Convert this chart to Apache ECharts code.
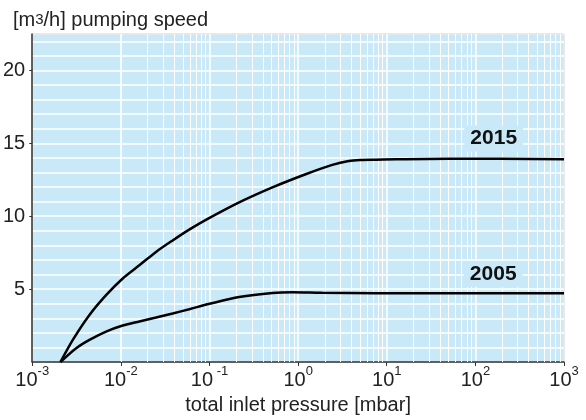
<!DOCTYPE html>
<html><head><meta charset="utf-8">
<script src="https://cdn.jsdelivr.net/npm/echarts@6/dist/echarts.min.js"></script>
<style>html,body{margin:0;padding:0;background:#fff}#c{width:586px;height:420px}</style>
</head><body><div id="c"></div>
<script>
// ---- data ----
const pressure2015 = [0.00208, 0.00287, 0.00442, 0.00681, 0.0105, 0.01615, 0.0249, 0.0384, 0.059, 0.091, 0.216, 0.513, 1.216, 2.43, 3.73, 5.0, 7.46, 50, 1000];
const speed2015    = [0, 1.52, 3.23, 4.59, 5.73, 6.63, 7.55, 8.34, 9.08, 9.75, 10.95, 11.98, 12.88, 13.52, 13.79, 13.86, 13.88, 13.95, 13.9];
const pressure2005 = [0.00208, 0.00313, 0.00442, 0.00681, 0.0105, 0.01615, 0.0249, 0.0384, 0.059, 0.1, 0.216, 0.513, 0.86, 1.85, 7.46, 100, 1000];
const speed2005    = [0, 0.95, 1.52, 2.09, 2.5, 2.78, 3.05, 3.33, 3.62, 3.99, 4.46, 4.74, 4.79, 4.75, 4.72, 4.72, 4.72];
const seriesNames  = ['2015', '2005'];
const xTickExponents = {'-3': '-3', '-2': '-2', '-1': ' -1', '0': '0', '1': '1', '2': '2', '3': '3'};
const yTickValues  = [5, 10, 15, 20];
const decades      = [0.001, 0.01, 0.1, 1, 10, 100];
const minorSteps   = [2, 3, 4, 5, 6, 7, 8, 9];
const label2015At  = [161, 15.34];
const label2005At  = [159, 6.03];

const FONT = 'Liberation Sans';
const BG = '#c9e9f9';
const minorX = [];
decades.forEach(d => minorSteps.forEach(m => minorX.push(+(d * m).toPrecision(3))));

const pairs = (xs, ys) => xs.map((x, i) => [x, ys[i]]);
const tagLabel = (txt) => ({
  show: true, formatter: txt, fontFamily: FONT, fontWeight: 'bold', fontSize: 21, color: '#111',
  backgroundColor: BG, padding: [3, 6, 2, 6]
});

const chart = echarts.init(document.getElementById('c'), null, {renderer: 'canvas'});
chart.setOption({
  animation: false,
  title: {
    text: '[m{sup|3}/h] pumping speed', left: 8, top: 5,
    textStyle: {fontFamily: FONT, fontSize: 20, fontWeight: 'normal', color: '#222',
      rich: {sup: {fontFamily: FONT, fontSize: 15, color: '#222', verticalAlign: 'bottom', padding: [0, 0, 3, 0]}}}
  },
  grid: {left: 31, right: 22, top: 34, bottom: 56, show: true, backgroundColor: BG, borderColor: '#555', borderWidth: 1},
  xAxis: {
    type: 'log', logBase: 10, min: 0.001, max: 1000,
    name: 'total inlet pressure [mbar]', nameLocation: 'middle', nameGap: 33,
    nameTextStyle: {fontFamily: FONT, fontSize: 20, color: '#222'},
    axisLine: {lineStyle: {color: '#333', width: 1.5}},
    axisTick: {show: true, inside: false, length: 4, lineStyle: {color: '#333'}},
    axisLabel: {
      margin: 8, fontFamily: FONT,
      formatter: v => '{b|10}{s|' + xTickExponents[String(Math.round(Math.log10(v)))] + '}',
      rich: {
        b: {fontFamily: FONT, fontSize: 20, color: '#222', verticalAlign: 'bottom', lineHeight: 20},
        s: {fontFamily: FONT, fontSize: 13, color: '#222', verticalAlign: 'bottom', lineHeight: 13, padding: [0, 0, 12, 0]}
      }
    },
    splitLine: {show: true, lineStyle: {color: '#fff', width: 1.5}}
  },
  yAxis: [{
    type: 'value', min: 0, max: 22.5, interval: 5,
    axisLine: {show: true, lineStyle: {color: '#333', width: 1.5}},
    axisTick: {show: true, inside: false, length: 3, lineStyle: {color: '#333'}},
    axisLabel: {margin: 7, fontFamily: FONT, fontSize: 20, color: '#222', showMinLabel: false, showMaxLabel: false,
      formatter: v => yTickValues.includes(v) ? String(v) : ''},
    splitLine: {show: false}
  }, {
    type: 'value', min: 0, max: 22.5, interval: 1, position: 'left',
    axisLine: {show: false}, axisTick: {show: false}, axisLabel: {show: false},
    splitLine: {show: true, lineStyle: {color: '#fff', width: 1.5}}
  }],
  series: [{
    type: 'line', name: 'grid', z: 1, silent: true, showSymbol: false,
    data: pairs(pressure2005, speed2005), lineStyle: {opacity: 0},
    markLine: {silent: true, z: 1, symbol: 'none', label: {show: false},
      lineStyle: {color: '#fff', width: 1, type: 'solid'},
      data: minorX.map(v => ({xAxis: v}))}
  }, {
    type: 'line', name: seriesNames[0], z: 3, smooth: 0.3, showSymbol: false, symbol: 'none',
    data: pairs(pressure2015, speed2015), lineStyle: {color: '#000', width: 2.5},
    markPoint: {silent: true, symbol: 'rect', symbolSize: 0,
      data: [{coord: label2015At, label: tagLabel(seriesNames[0])}]}
  }, {
    type: 'line', name: seriesNames[1], z: 3, smooth: 0.3, showSymbol: false, symbol: 'none',
    data: pairs(pressure2005, speed2005), lineStyle: {color: '#000', width: 2.5},
    markPoint: {silent: true, symbol: 'rect', symbolSize: 0,
      data: [{coord: label2005At, label: tagLabel(seriesNames[1])}]}
  }]
});
</script></body></html>
